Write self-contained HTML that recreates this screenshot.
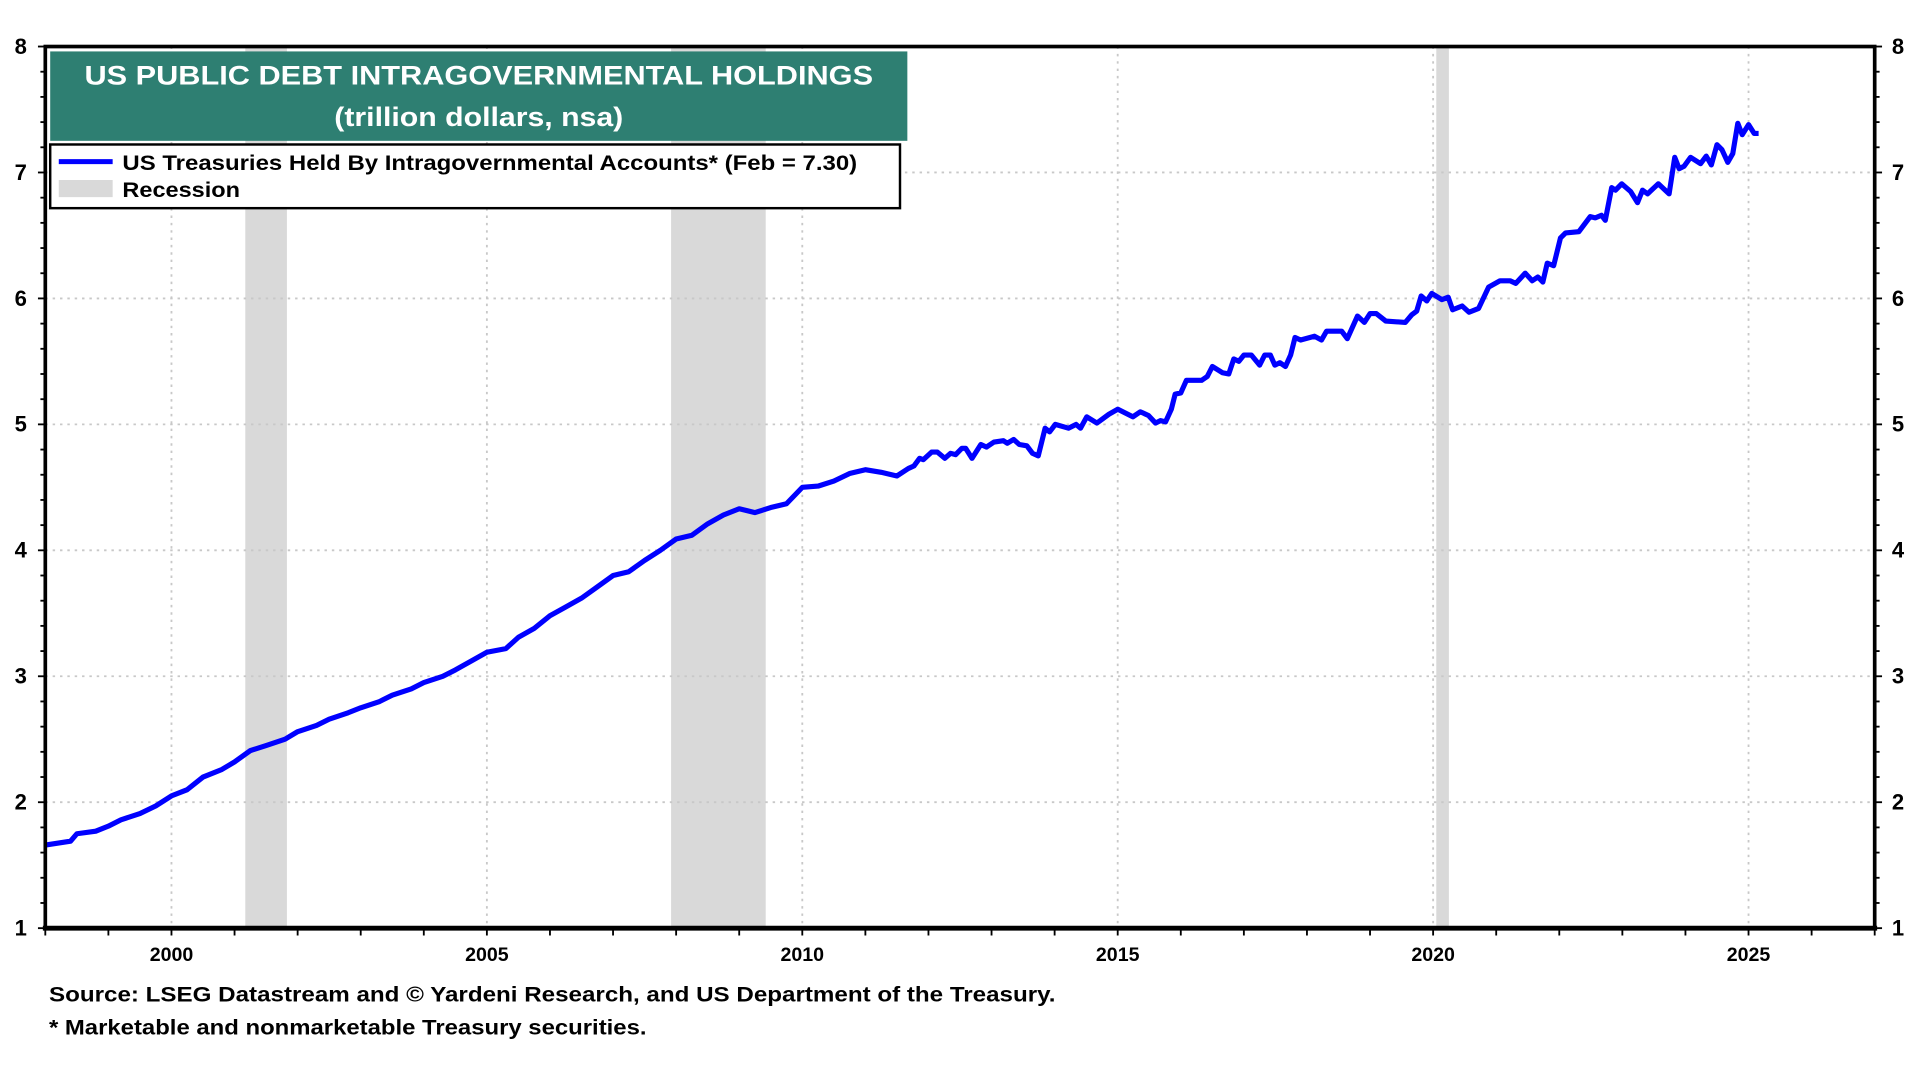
<!DOCTYPE html>
<html><head><meta charset="utf-8"><style>
html,body{margin:0;padding:0;background:#fff;}
svg{display:block;font-family:"Liberation Sans",Arial,sans-serif;font-weight:bold;}
</style></head><body>
<svg id="chart" width="1920" height="1080" viewBox="0 0 1568 882" xmlns="http://www.w3.org/2000/svg">
<g id="recessions"></g>
<g id="grid"></g>
<g id="series"></g>
<rect x="37" y="38" width="1494" height="720" fill="none" stroke="#000" stroke-width="3"/>
<line x1="35" y1="758" x2="1533" y2="758" stroke="#000" stroke-width="4"/>
<g id="axes"></g>
<g>
<rect x="41" y="42" width="700" height="73" fill="#2e7f72"/>
<text x="391" y="69" fill="#fff" font-size="22" text-anchor="middle" textLength="644" lengthAdjust="spacingAndGlyphs">US PUBLIC DEBT INTRAGOVERNMENTAL HOLDINGS</text>
<text x="391" y="103" fill="#fff" font-size="22" text-anchor="middle" textLength="236" lengthAdjust="spacingAndGlyphs">(trillion dollars, nsa)</text>
</g>
<g>
<rect x="41" y="118" width="694" height="52" fill="#fff" stroke="#000" stroke-width="2"/>
<line x1="48" y1="132" x2="92" y2="132" stroke="#0000ff" stroke-width="4"/>
<text x="100" y="139" font-size="17" textLength="600" lengthAdjust="spacingAndGlyphs">US Treasuries Held By Intragovernmental Accounts* (Feb = 7.30)</text>
<rect x="48" y="147" width="44" height="14" fill="#d9d9d9"/>
<text x="100" y="161" font-size="17" textLength="96" lengthAdjust="spacingAndGlyphs">Recession</text>
</g>
<text x="40" y="818" font-size="17" textLength="822" lengthAdjust="spacingAndGlyphs">Source: LSEG Datastream and © Yardeni Research, and US  Department of the Treasury.</text>
<text x="40" y="845" font-size="17" textLength="488" lengthAdjust="spacingAndGlyphs">* Marketable and nonmarketable Treasury securities.</text>
</svg>
<script>
const years = [1998.0,1998.4,1998.5,1998.8,1999.0,1999.2,1999.5,1999.75,2000.0,2000.25,2000.5,2000.8,2001.0,2001.25,2001.5,2001.8,2002.0,2002.3,2002.5,2002.8,2003.0,2003.3,2003.5,2003.8,2004.0,2004.3,2004.5,2004.75,2005.0,2005.3,2005.5,2005.75,2006.0,2006.25,2006.5,2006.75,2007.0,2007.25,2007.5,2007.75,2008.0,2008.25,2008.5,2008.75,2009.0,2009.25,2009.5,2009.75,2010.0,2010.25,2010.5,2010.75,2011.0,2011.25,2011.5,
2011.68,2011.77,2011.86,2011.92,2012.05,2012.14,2012.26,2012.35,2012.43,2012.53,2012.59,2012.69,2012.83,2012.92,2013.04,2013.19,2013.25,2013.35,2013.44,2013.56,2013.65,2013.74,2013.85,2013.92,2014.01,2014.22,2014.34,2014.41,2014.51,2014.67,2014.86,2015.0,2015.24,2015.36,2015.49,2015.60,2015.68,2015.76,2015.85,2015.91,2016.0,2016.09,2016.33,2016.42,2016.50,2016.66,2016.76,2016.84,2016.92,2017.0,2017.12,2017.25,2017.33,2017.42,2017.49,2017.57,2017.66,2017.74,2017.81,
2017.9,2018.12,2018.23,2018.31,2018.55,2018.64,2018.80,2018.91,2019.0,2019.1,2019.25,2019.56,2019.66,2019.74,2019.81,2019.90,2019.98,2020.14,2020.24,2020.31,2020.46,2020.57,2020.72,2020.88,2021.06,2021.22,2021.31,2021.46,2021.57,2021.66,2021.74,2021.81,2021.91,2022.02,2022.10,2022.31,2022.49,2022.57,2022.67,2022.73,2022.83,2022.89,2022.99,2023.13,2023.24,2023.32,2023.40,2023.57,2023.74,2023.83,2023.90,2023.98,2024.08,2024.24,2024.33,2024.41,2024.50,2024.58,2024.67,2024.75,2024.83,2024.90,2025.00,2025.09,2025.16];
const values = [1.66,1.69,1.75,1.77,1.81,1.86,1.91,1.97,2.05,2.10,2.20,2.26,2.32,2.41,2.45,2.50,2.56,2.61,2.66,2.71,2.75,2.80,2.85,2.90,2.95,3.00,3.05,3.12,3.19,3.22,3.31,3.38,3.48,3.55,3.62,3.71,3.80,3.83,3.92,4.00,4.09,4.12,4.21,4.28,4.33,4.30,4.34,4.37,4.50,4.51,4.55,4.61,4.64,4.62,4.59,
4.65,4.67,4.73,4.72,4.78,4.78,4.73,4.77,4.76,4.81,4.81,4.73,4.84,4.82,4.86,4.87,4.85,4.88,4.84,4.83,4.77,4.75,4.97,4.94,5.00,4.97,5.00,4.97,5.06,5.01,5.08,5.12,5.06,5.10,5.07,5.01,5.03,5.02,5.12,5.24,5.25,5.35,5.35,5.38,5.46,5.41,5.40,5.52,5.50,5.55,5.55,5.47,5.55,5.55,5.47,5.49,5.46,5.55,5.69,
5.67,5.70,5.67,5.74,5.74,5.68,5.86,5.81,5.88,5.88,5.82,5.81,5.87,5.90,6.02,5.98,6.04,5.99,6.01,5.91,5.94,5.89,5.92,6.09,6.14,6.14,6.12,6.20,6.14,6.17,6.13,6.28,6.26,6.48,6.52,6.53,6.65,6.64,6.66,6.62,6.88,6.86,6.91,6.85,6.76,6.86,6.83,6.91,6.83,7.12,7.03,7.05,7.12,7.07,7.13,7.06,7.22,7.18,7.08,7.15,7.39,7.30,7.38,7.31,7.31];
const recessionStarts = [2001.17, 2007.92, 2020.05];
const recessionEnds = [2001.83, 2009.42, 2020.25];
const yTicks = [1,2,3,4,5,6,7,8];
const xTicks = [2000,2005,2010,2015,2020,2025];

const NS = "http://www.w3.org/2000/svg";
const X0=37,X1=1531,Y0=38,Y1=758,XMIN=1998.0,XMAX=2027.0,YMIN=1,YMAX=8;
function xs(v){return X0+(v-XMIN)/(XMAX-XMIN)*(X1-X0);}
function ys(v){return Y1-(v-YMIN)/(YMAX-YMIN)*(Y1-Y0);}
function mk(tag,attrs,parent){const e=document.createElementNS(NS,tag);for(const k in attrs)e.setAttribute(k,attrs[k]);parent.appendChild(e);return e;}

const rg=document.getElementById('recessions');
recessionStarts.forEach((s,i)=>{
  const r=mk('rect',{x:xs(s),y:Y0,width:xs(recessionEnds[i])-xs(s),height:Y1-Y0,fill:'#d9d9d9'},rg);
  
  
});
const gg=document.getElementById('grid');
yTicks.forEach(v=>{
  if(v===YMIN||v===YMAX)return;
  const l=mk('line',{x1:X0,x2:X1,y1:ys(v),y2:ys(v),stroke:'#c8c8c8','stroke-width':1.5,'stroke-dasharray':'2,4'},gg);
  
  
});
xTicks.forEach(v=>{
  const l=mk('line',{x1:xs(v),x2:xs(v),y1:Y0,y2:Y1,stroke:'#c8c8c8','stroke-width':1.5,'stroke-dasharray':'2,4'},gg);
  
  
});
const sg=document.getElementById('series');
let d='';
years.forEach((y,i)=>{d+=(i?'L':'M')+xs(y).toFixed(1)+','+ys(values[i]).toFixed(1);});
const p=mk('path',{d:d,fill:'none',stroke:'#0000ff','stroke-width':4.2,'stroke-linejoin':'round'},sg);



const ag=document.getElementById('axes');
for(let v=YMIN;v<=YMAX+0.001;v+=0.2){
  const major=Math.abs(v-Math.round(v))<0.01;
  const len=major?6:4;
  mk('line',{x1:X0-len,x2:X0,y1:ys(v),y2:ys(v),stroke:'#000','stroke-width':1.5},ag);
  mk('line',{x1:X1,x2:X1+len,y1:ys(v),y2:ys(v),stroke:'#000','stroke-width':1.5},ag);
}
yTicks.forEach(v=>{
  const t=mk('text',{x:22,y:ys(v)+6,'font-size':18,'text-anchor':'end'},ag);
  t.textContent=v;
  
  
  const t2=mk('text',{x:1545,y:ys(v)+6,'font-size':18},ag);
  t2.textContent=v;
  
  
});
for(let yr=1998;yr<=2027;yr++){
  mk('line',{x1:xs(yr),x2:xs(yr),y1:Y1,y2:Y1+6,stroke:'#000','stroke-width':1.5},ag);
}
xTicks.forEach(v=>{
  const t=mk('text',{x:xs(v),y:785,'font-size':16,'text-anchor':'middle'},ag);
  t.textContent=v;
  
  
});
</script>
</body></html>
